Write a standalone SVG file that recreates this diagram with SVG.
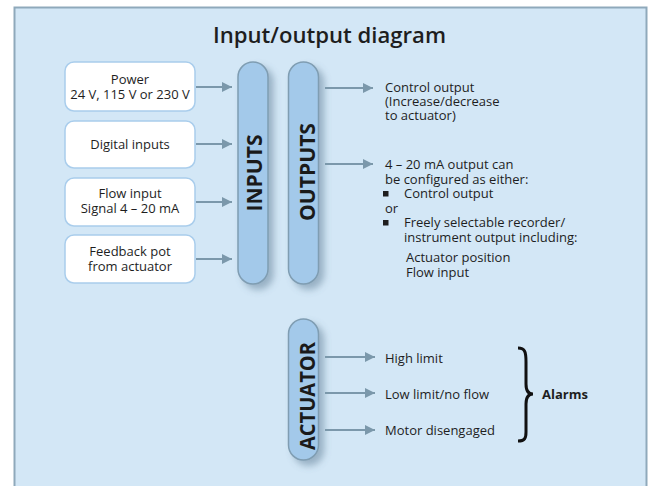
<svg xmlns="http://www.w3.org/2000/svg" width="653" height="486" viewBox="0 0 653 486">
<style>
.t{font-family:"Open Sans","Noto Sans","Liberation Sans",sans-serif;font-size:13px;fill:#1e1e1e}
.c{text-anchor:middle}
.pl{font-family:"Open Sans","Noto Sans","Liberation Sans",sans-serif;font-size:22px;font-weight:700;fill:#1a1a1a;text-anchor:middle}
.box{fill:#ffffff;stroke:#a9cdec;stroke-width:1.5}
.pill{fill:#a3c9ea;stroke:#7f9db2;stroke-width:1.5}
.ar{stroke:#7b98ab;stroke-width:1.8;fill:none;marker-end:url(#ah)}
</style>
<defs>
<marker id="ah" viewBox="0 0 10 10" refX="10" refY="5" markerWidth="10" markerHeight="10" markerUnits="userSpaceOnUse" orient="auto">
<path d="M0,0 L10,5 L0,10 Z" fill="#7b98ab"/>
</marker>
<filter id="sh" x="-50%" y="-20%" width="200%" height="140%">
<feDropShadow dx="5" dy="5" stdDeviation="3.5" flood-color="#4f6e86" flood-opacity="0.45"/>
</filter>
</defs>
<rect x="0" y="0" width="653" height="486" fill="#ffffff"/>
<rect x="14.5" y="7.5" width="632" height="490" fill="#d3e7f6" stroke="#8fa9bb" stroke-width="2"/>
<text id="title" x="329.5" y="43" class="t c" style="font-size:22px;font-weight:600" textLength="233" lengthAdjust="spacingAndGlyphs">Input/output diagram</text>

<g id="power">
<rect class="box" x="65" y="62" width="130" height="49" rx="9"/>
<text class="t c" x="130" y="84">Power</text>
<text class="t c" x="130" y="99">24 V, 115 V or 230 V</text>
</g>
<g id="digital">
<rect class="box" x="65" y="121" width="130" height="47" rx="9"/>
<text class="t c" x="130" y="149">Digital inputs</text>
</g>
<g id="flow">
<rect class="box" x="65" y="178" width="130" height="48" rx="9"/>
<text class="t c" x="130" y="198">Flow input</text>
<text class="t c" x="130" y="213">Signal 4 – 20 mA</text>
</g>
<g id="feedback">
<rect class="box" x="65" y="235" width="130" height="48" rx="9"/>
<text class="t c" x="130" y="256">Feedback pot</text>
<text class="t c" x="130" y="271">from actuator</text>
</g>

<g id="inputs">
<rect class="pill" x="238" y="62" width="30" height="222" rx="15" filter="url(#sh)"/>
<text class="pl" transform="translate(262,173) rotate(-90)" textLength="77" lengthAdjust="spacingAndGlyphs">INPUTS</text>
</g>
<g id="outputs">
<rect class="pill" x="288.5" y="62" width="30" height="222" rx="15" filter="url(#sh)"/>
<text class="pl" transform="translate(315,172) rotate(-90)" textLength="98" lengthAdjust="spacingAndGlyphs">OUTPUTS</text>
</g>
<g id="actuator">
<rect class="pill" x="288.5" y="319" width="30" height="141" rx="15" filter="url(#sh)"/>
<text class="pl" transform="translate(315,396) rotate(-90)" textLength="108" lengthAdjust="spacingAndGlyphs">ACTUATOR</text>
</g>

<g id="connectors">
<line class="ar" x1="196" y1="87" x2="232" y2="87"/>
<line class="ar" x1="196" y1="144" x2="232" y2="144"/>
<line class="ar" x1="196" y1="202" x2="232" y2="202"/>
<line class="ar" x1="196" y1="259" x2="232" y2="259"/>
<line class="ar" x1="325" y1="88" x2="373" y2="88"/>
<line class="ar" x1="325" y1="164" x2="373" y2="164"/>
<line class="ar" x1="325" y1="357" x2="375" y2="357"/>
<line class="ar" x1="325" y1="393" x2="375" y2="393"/>
<line class="ar" x1="325" y1="430" x2="375" y2="430"/>
</g>

<g id="control-output">
<text class="t" x="385" y="92">Control output</text>
<text class="t" x="385" y="106">(Increase/decrease</text>
<text class="t" x="385" y="120">to actuator)</text>
</g>
<g id="ma-output">
<text class="t" x="385" y="169">4 – 20 mA output can</text>
<text class="t" x="385" y="184">be configured as either:</text>
<rect x="383" y="191" width="5.5" height="5.5" fill="#1e1e1e"/>
<text class="t" x="404" y="198">Control output</text>
<text class="t" x="385" y="213">or</text>
<rect x="383" y="220" width="5.5" height="5.5" fill="#1e1e1e"/>
<text class="t" x="404" y="227">Freely selectable recorder/</text>
<text class="t" x="404" y="242">instrument output including:</text>
<text class="t" x="406" y="262">Actuator position</text>
<text class="t" x="406" y="277">Flow input</text>
</g>
<g id="alarms">
<text class="t" x="385" y="363">High limit</text>
<text class="t" x="385" y="399">Low limit/no flow</text>
<text class="t" x="385" y="435">Motor disengaged</text>
<path d="M518,348 C525,348 526,352 526,362 L526,384 C526,391 529,394 533,394 C529,394 526,397 526,404 L526,432 C526,438 525,441 518,441" fill="none" stroke="#111" stroke-width="3"/>
<text class="t" x="542" y="399" style="font-weight:700">Alarms</text>
</g>
</svg>
